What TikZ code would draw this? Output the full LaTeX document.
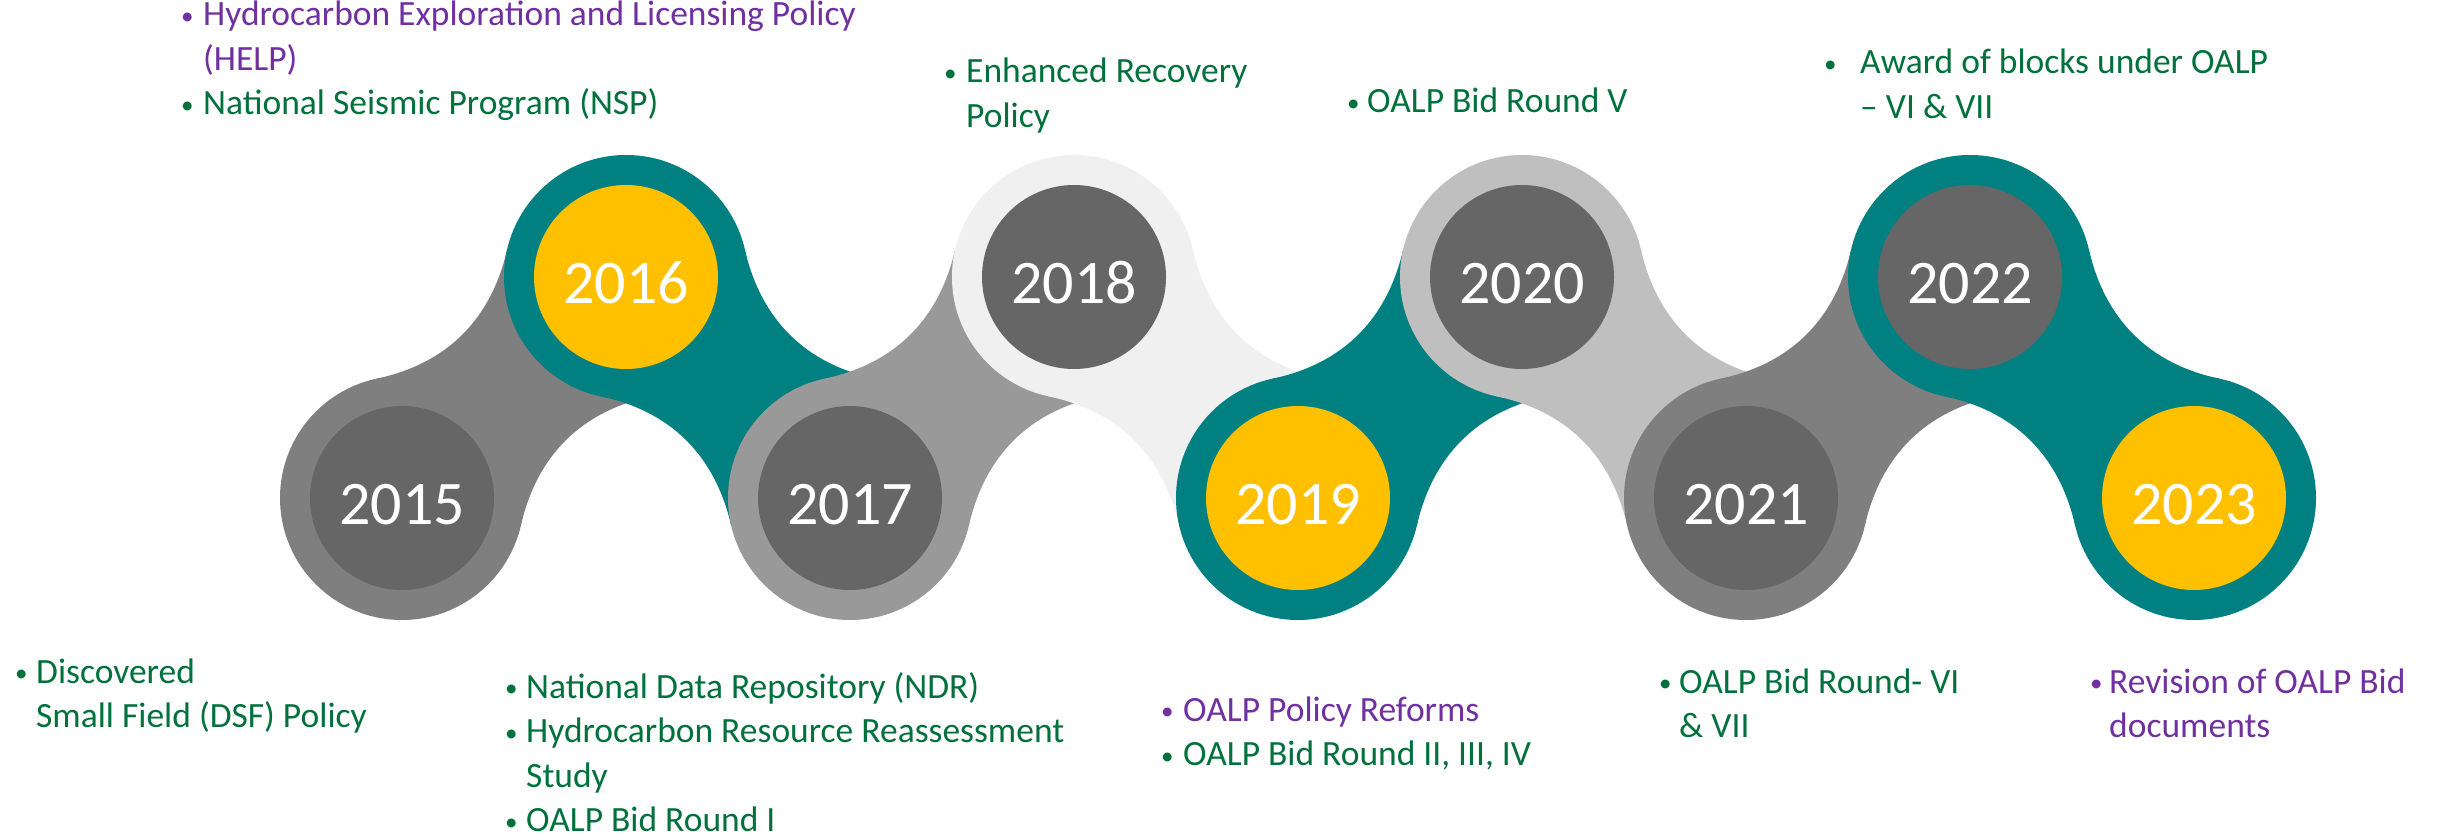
\documentclass[tikz,border=0pt]{standalone}
\usepackage{fontspec}
\setmainfont{Carlito}
\usetikzlibrary{backgrounds}
\definecolor{tealc}{HTML}{008080}
\definecolor{gold}{HTML}{FFC000}
\definecolor{slate}{HTML}{666666}
\definecolor{grayA}{HTML}{7F7F7F}
\definecolor{grayB}{HTML}{999999}
\definecolor{grayC}{HTML}{F0F0F0}
\definecolor{grayD}{HTML}{BFBFBF}
\definecolor{plum}{HTML}{7030A0}
\definecolor{leaf}{HTML}{00703C}
\newcommand{\yearfont}{\fontsize{62}{74}\selectfont}
\newcommand{\notefont}{\fontsize{35.5}{44.5}\selectfont}
\newcommand{\bul}[1][22pt]{\makebox[#1][l]{\raisebox{1.5pt}{\fontsize{25}{25}\selectfont\textbullet}}}
\begin{document}
\begin{tikzpicture}[x=1pt, y=1pt,
  ring/.style={circle, minimum size=244pt, inner sep=0pt, outer sep=0pt},
  hub/.style={circle, minimum size=184pt, inner sep=0pt, text=white, font=\yearfont, text height=53pt, text depth=0pt},
  note/.style={anchor=base west, inner sep=0pt, font=\notefont}]
\useasboundingbox (0,0) rectangle (2447,839);
\node[ring, fill=grayA] (ring0) at (402,341){};
\node[ring, fill=tealc] (ring1) at (626,562){};
\node[ring, fill=grayB] (ring2) at (850,341){};
\node[ring, fill=grayC] (ring3) at (1074,562){};
\node[ring, fill=tealc] (ring4) at (1298,341){};
\node[ring, fill=grayD] (ring5) at (1522,562){};
\node[ring, fill=grayA] (ring6) at (1746,341){};
\node[ring, fill=tealc] (ring7) at (1970,562){};
\node[ring, fill=tealc] (ring8) at (2194,341){};
\node[hub, fill=slate] (yr0) at (ring0){2015};
\node[hub, fill=gold] (yr1) at (ring1){2016};
\node[hub, fill=slate] (yr2) at (ring2){2017};
\node[hub, fill=slate] (yr3) at (ring3){2018};
\node[hub, fill=gold] (yr4) at (ring4){2019};
\node[hub, fill=slate] (yr5) at (ring5){2020};
\node[hub, fill=slate] (yr6) at (ring6){2021};
\node[hub, fill=slate] (yr7) at (ring7){2022};
\node[hub, fill=gold] (yr8) at (ring8){2023};
\begin{scope}[on background layer]
\fill[grayA] (ring0.102) to[out=12,in=257] (ring1.167) -- (ring1.282) to[out=192,in=77] (ring0.347) -- cycle;
\fill[tealc] (ring1.13) to[out=-77,in=168] (ring2.78) -- (ring2.193) to[out=103,in=-12] (ring1.258) -- cycle;
\fill[grayB] (ring2.102) to[out=12,in=257] (ring3.167) -- (ring3.282) to[out=192,in=77] (ring2.347) -- cycle;
\fill[grayC] (ring3.13) to[out=-77,in=168] (ring4.78) -- (ring4.193) to[out=103,in=-12] (ring3.258) -- cycle;
\fill[tealc] (ring4.102) to[out=12,in=257] (ring5.167) -- (ring5.282) to[out=192,in=77] (ring4.347) -- cycle;
\fill[grayD] (ring5.13) to[out=-77,in=168] (ring6.78) -- (ring6.193) to[out=103,in=-12] (ring5.258) -- cycle;
\fill[grayA] (ring6.102) to[out=12,in=257] (ring7.167) -- (ring7.282) to[out=192,in=77] (ring6.347) -- cycle;
\fill[tealc] (ring7.13) to[out=-77,in=168] (ring8.78) -- (ring8.193) to[out=103,in=-12] (ring7.258) -- cycle;
\end{scope}
\node[note, text=leaf] (n0) at (15,156){\begin{tabular}[t]{@{}l@{}l@{}}\bul[21pt] & Discovered\\ & Small Field (DSF) Policy\end{tabular}};
\node[note, text=plum] (n1) at (181,813){\begin{tabular}[t]{@{}l@{}l@{}}\bul & Hydrocarbon Exploration and Licensing Policy\\ & (HELP)\\ \color{leaf}\bul & \color{leaf}National Seismic Program (NSP)\end{tabular}};
\node[note, text=leaf] (n2) at (505,141){\begin{tabular}[t]{@{}l@{}l@{}}\bul[21pt] & National Data Repository (NDR)\\ \bul[21pt] & Hydrocarbon Resource Reassessment\\ & Study\\ \bul[21pt] & OALP Bid Round I\end{tabular}};
\node[note, text=leaf] (n3) at (944,756){\begin{tabular}[t]{@{}l@{}l@{}}\bul & Enhanced Recovery\\ & Policy\end{tabular}};
\node[note, text=plum] (n4) at (1161,118){\begin{tabular}[t]{@{}l@{}l@{}}\bul & OALP Policy Reforms\\ \color{leaf}\bul & \color{leaf}OALP Bid Round II, III, IV\end{tabular}};
\node[note, text=leaf] (n5) at (1347,726){\begin{tabular}[t]{@{}l@{}l@{}}\bul[20pt] & OALP Bid Round V\end{tabular}};
\node[note, text=leaf] (n6) at (1659,146){\begin{tabular}[t]{@{}l@{}l@{}}\bul[20pt] & OALP Bid Round- VI\\ & \& VII\end{tabular}};
\node[note, text=leaf] (n7) at (1824,765){\begin{tabular}[t]{@{}l@{}l@{}}\bul[36pt] & Award of blocks under OALP\\ & -- VI \& VII\end{tabular}};
\node[note, text=plum] (n8) at (2090,146){\begin{tabular}[t]{@{}l@{}l@{}}\bul[19pt] & Revision of OALP Bid\\ & documents\end{tabular}};
\end{tikzpicture}
\end{document}
